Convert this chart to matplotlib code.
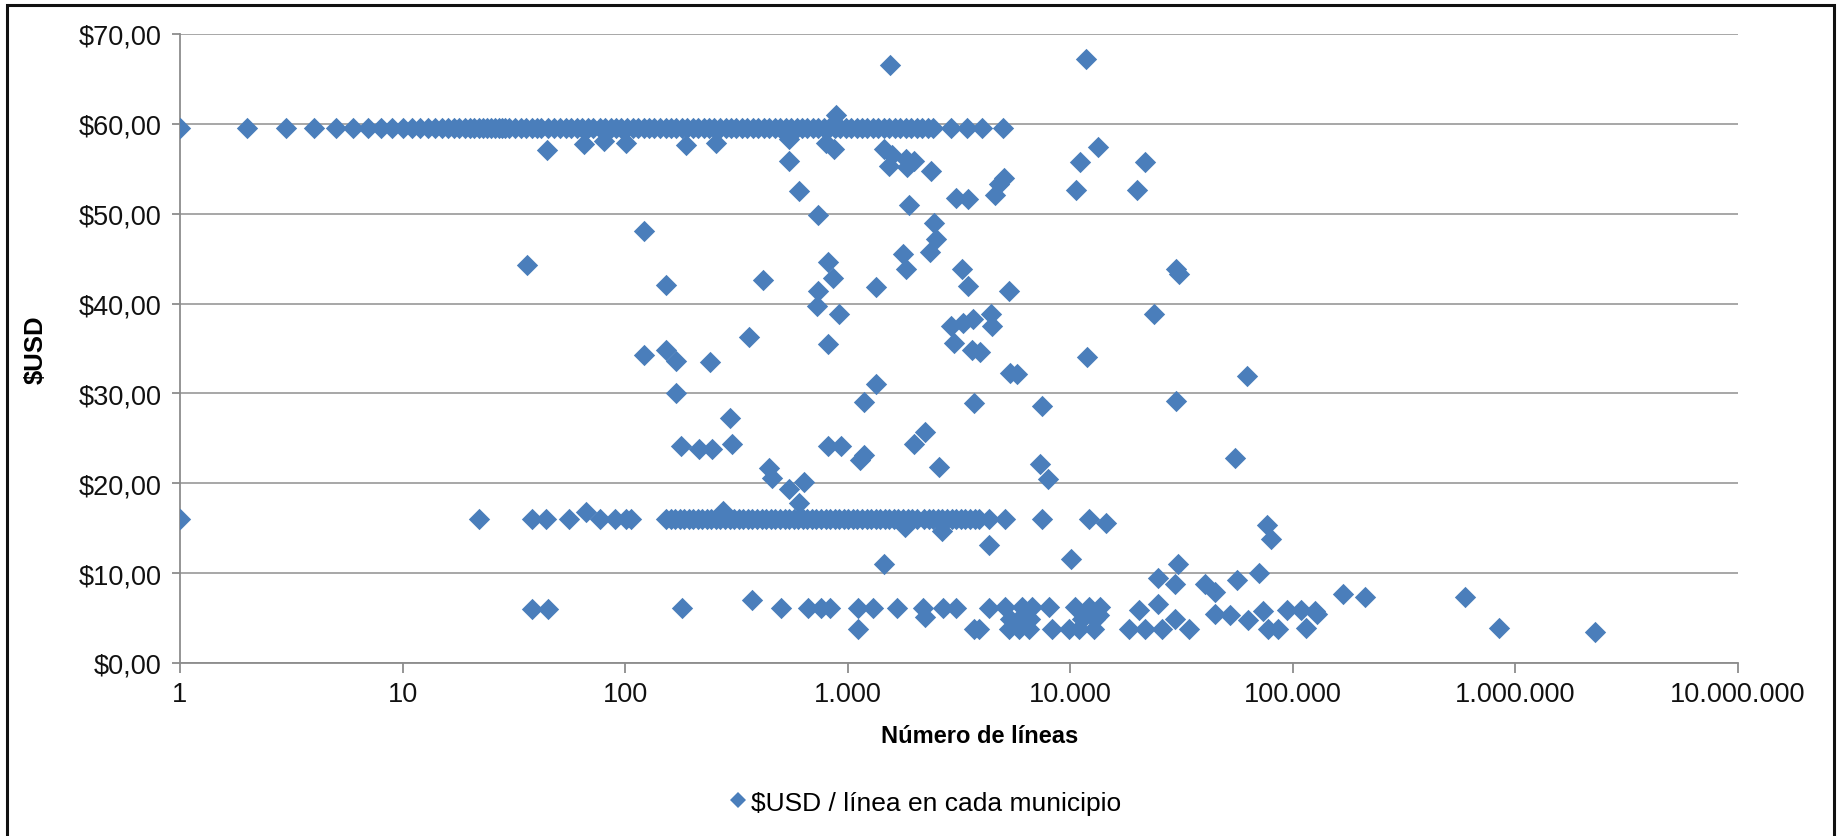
import matplotlib
matplotlib.use('Agg')
import matplotlib.pyplot as plt
from matplotlib.ticker import FixedLocator, FixedFormatter, NullLocator
from matplotlib.patches import Rectangle
from matplotlib.lines import Line2D

plt.rcParams['font.family'] = ['Liberation Sans', 'DejaVu Sans']

# ---------------- data ----------------
x_ticks = [1, 10, 100, 1000, 10000, 100000, 1000000, 10000000]
x_tick_labels = ["1", "10", "100", "1.000", "10.000", "100.000", "1.000.000", "10.000.000"]
y_ticks = [0, 10, 20, 30, 40, 50, 60, 70]
y_tick_labels = ["$0,00", "$10,00", "$20,00", "$30,00", "$40,00", "$50,00", "$60,00", "$70,00"]

# municipalities on the ~$59,5 level
band_high_usd = 59.5
band_high_lines = [1, 2, 3, 4, 5, 6, 7, 8, 9, 10, 11, 12, 13, 14, 15, 16, 17, 18, 19, 20,
                   21, 22, 23, 24, 25, 26, 27, 28, 29, 30, 32, 34, 36, 38, 40, 42, 45, 48,
                   51, 54, 57, 61, 64, 68, 72, 77, 81, 86, 91, 96, 102, 108, 114, 121, 128,
                   135, 143, 152, 160, 170, 180, 190, 201, 213, 225, 238, 252, 267, 283,
                   299, 316, 335, 354, 375, 397, 420, 444, 470, 497, 526, 557, 589, 623,
                   659, 697, 738, 781, 826, 874, 925, 979, 1036, 1096, 1160, 1227, 1298,
                   1374, 1454, 1538, 1628, 1722, 1822, 1928, 2040, 2158, 2284, 2416,
                   2906, 3430, 4000, 4977]

# municipalities on the ~$16 level
band_mid_usd = 16.0
band_mid_lines = [1, 22, 38, 44, 56, 77, 90, 101, 106, 153, 160, 168, 176, 184, 193, 202,
                  212, 222, 233, 244, 256, 268, 281, 295, 309, 324, 340, 356, 373, 391,
                  410, 430, 451, 473, 496, 520, 545, 571, 599, 628, 658, 690, 723, 758,
                  795, 833, 873, 915, 960, 1006, 1055, 1106, 1159, 1215, 1274, 1336, 1400,
                  1468, 1539, 1613, 1691, 1773, 1859, 1949, 2043, 2200, 2310, 2420, 2540,
                  2660, 2790, 2930, 3070, 3220, 3380, 3540, 3720, 3900, 4300, 5080, 7470,
                  12100]

# remaining scattered municipalities
other_lines = [44.5, 65.6, 80.6, 101, 188, 256, 545, 797, 868, 890,
               1550, 11800, 1455, 1585, 1820, 1531, 1846, 1983, 2355, 545, 604, 738, 121,
               36.4, 818, 860, 738, 731, 910, 819, 153, 417, 1336, 1884, 3052, 3476, 2438,
               2483, 2333, 1770, 1827, 3268, 3476, 2920, 3300, 3660, 4400, 4450, 3000, 3600,
               3950, 5300, 5360, 5770, 4575, 4800, 5020, 13270, 11040, 21680, 10610, 19950,
               29700, 30800, 23800, 11890, 30000, 62500,
               122, 153, 170, 240, 360, 170, 296, 178, 215, 246, 302, 443, 459, 545, 637,
               603, 274, 67, 1336, 1178, 3690, 7470, 818, 930, 1130, 1180, 1980, 2230, 2580,
               7300, 7900, 55000, 1800, 2640, 4300, 1450, 10100, 14450, 76400, 79600,
               38, 45, 181, 370, 500, 660, 757, 830, 1112, 1300, 1112, 1672, 2170, 2230,
               2680, 3050, 3680, 4300, 3880, 5110, 6070, 6720, 8000, 10540, 12100, 13640,
               5380, 5870, 6620, 11300, 12970, 5290, 5870, 6500, 8280, 9840, 10900, 12740,
               13400, 18300, 20300, 21700, 24900, 25800, 29600, 34000, 24900, 30600, 29600,
               40400, 44800, 44800, 52300, 56200, 63100, 70300, 73800, 77600, 86100, 93800,
               109000, 115000, 126000, 128000, 168000, 210000, 594000, 841000, 2285000]
other_usd = [57.1, 57.8, 58.1, 57.9, 57.6, 57.9, 58.3, 57.9, 57.2, 61.0,
             66.5, 67.2, 57.2, 56.5, 56.1, 55.3, 55.2, 55.9, 54.8, 55.9, 52.5, 49.9, 48.1,
             44.3, 44.6, 42.9, 41.4, 39.7, 38.8, 35.5, 42.1, 42.6, 41.8, 51.0, 51.8, 51.6, 49.0,
             47.2, 45.7, 45.5, 43.9, 43.8, 42.0, 37.5, 37.8, 38.3, 38.8, 37.5, 35.6, 34.8,
             34.6, 41.4, 32.3, 32.2, 52.1, 53.3, 54.0, 57.4, 55.7, 55.7, 52.6, 52.6,
             43.8, 43.3, 38.8, 34.0, 29.2, 31.9,
             34.3, 34.8, 33.6, 33.5, 36.3, 30.1, 27.3, 24.1, 23.8, 23.8, 24.4, 21.7, 20.6, 19.4, 20.1,
             17.8, 16.9, 16.8, 31.0, 29.1, 28.9, 28.6, 24.2, 24.2, 22.6, 23.2, 24.4, 25.7, 21.8,
             22.1, 20.5, 22.8, 15.1, 14.7, 13.1, 11.0, 11.6, 15.6, 15.4, 13.8,
             6.0, 6.0, 6.1, 7.0, 6.1, 6.1, 6.1, 6.1, 6.1, 6.1, 3.8, 6.1, 6.1, 5.1,
             6.1, 6.1, 3.8, 6.1, 3.8, 6.2, 6.2, 6.2, 6.2, 6.2, 6.2, 6.2,
             4.9, 4.9, 4.9, 4.9, 4.9, 3.8, 3.8, 3.8, 3.8, 3.8, 3.8, 3.8,
             5.3, 3.8, 5.9, 3.8, 6.6, 3.8, 4.9, 3.8, 9.5, 11.0, 8.8,
             8.8, 7.9, 5.5, 5.3, 9.2, 4.8, 10.0, 5.8, 3.8, 3.8, 5.9,
             5.9, 3.9, 5.75, 5.4, 7.7, 7.3, 7.3, 3.9, 3.4]

series_label = "$USD / línea en cada municipio"
x_title = "Número de líneas"
y_title = "$USD"

# ---------------- drawing ----------------
W, H = 1839, 837
fig = plt.figure(figsize=(W / 100, H / 100), dpi=100)
ax = fig.add_axes([180 / W, 1 - 664 / H, 1558 / W, 629 / H])

color = '#4A7EBB'
xs = band_high_lines + band_mid_lines + other_lines
ys = [band_high_usd] * len(band_high_lines) + [band_mid_usd] * len(band_mid_lines) + other_usd
ax.scatter(xs, ys, marker='D', s=118, color=color, linewidths=0, zorder=3)

ax.set_xscale('log')
ax.set_xlim(1, 1e7)
ax.set_ylim(0, 70)
ax.xaxis.set_major_locator(FixedLocator(x_ticks))
ax.xaxis.set_major_formatter(FixedFormatter(x_tick_labels))
ax.xaxis.set_minor_locator(NullLocator())
ax.yaxis.set_major_locator(FixedLocator(y_ticks))
ax.yaxis.set_major_formatter(FixedFormatter(y_tick_labels))

grid_c = '#A0A0A0'
ax.yaxis.grid(True, color=grid_c, linewidth=1.3)
ax.set_axisbelow(True)
for s in ['top', 'right']:
    ax.spines[s].set_visible(False)
for s in ['left', 'bottom']:
    ax.spines[s].set_color('#8C8C8C')
    ax.spines[s].set_linewidth(1.3)
ax.tick_params(axis='y', length=6, width=1.3, color='#8C8C8C', pad=7, labelsize=19.5,
               labelcolor='#111111')
ax.tick_params(axis='x', length=7, width=1.3, color='#8C8C8C', pad=6, labelsize=19.5,
               labelcolor='#111111')

ax.set_xlabel(x_title, fontsize=17, fontweight='bold', color='#000000')
ax.xaxis.set_label_coords(0.513, -0.097)
ax.set_ylabel(y_title, fontsize=18.5, fontweight='bold', color='#000000')
ax.yaxis.set_label_coords(-0.085, 0.5)

handle = Line2D([], [], marker='D', linestyle='none', color=color, markersize=8.5,
                markeredgewidth=0)
fig.legend([handle], [series_label], loc='center', bbox_to_anchor=(0.502, 0.040),
           frameon=False, fontsize=19, handletextpad=0.0, handlelength=1.0)

# outer chart frame
fig.patches.append(Rectangle((7 / W, -0.02), (1834 - 7) / W, 1 - 6 / H + 0.02,
                             transform=fig.transFigure, fill=False, edgecolor='#111111',
                             linewidth=2.2))

fig.savefig('out.png', dpi=100)
